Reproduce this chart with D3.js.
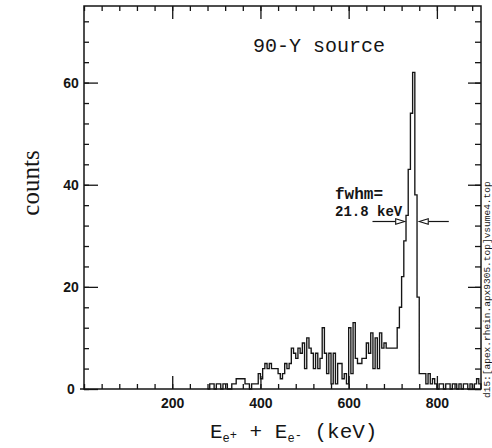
<!DOCTYPE html>
<html>
<head>
<meta charset="utf-8">
<script src="https://cdn.jsdelivr.net/npm/d3@7"></script>
<style>
  html, body { margin: 0; padding: 0; background: #fff; }
  svg { display: block; }
</style>
</head>
<body>
<svg width="492" height="448"></svg>
<script>
// histogram: 5 keV bins starting at binStart
const binStart = 280;
const binWidth = 5;
const counts = [
    0, 1, 1, 0, 1, 1, 0, 1, 1, 0,      // 280 - 325
    0, 1, 1, 2, 2, 2, 2, 1, 1, 0,      // 330 - 375
    1, 1, 1, 3, 2, 4, 5, 4, 5, 4,      // 380 - 425
    4, 4, 3, 2, 3, 5, 4, 5, 8, 7,      // 430 - 475
    6, 8, 7, 9, 4, 10, 8, 7, 4, 7,     // 480 - 525
    4, 6, 12, 7, 3, 7, 1, 7, 1, 5,     // 530 - 575
    5, 2, 3, 1, 12, 3, 13, 6, 5, 5,    // 580 - 625
    6, 6, 9, 7, 11, 4, 10, 4, 11, 8,   // 630 - 675
    9, 8, 8, 8, 8, 8, 12, 16, 22, 29,  // 680 - 725
    34, 43, 54, 62, 38, 18, 3, 3, 3, 1, // 730 - 775
    3, 1, 2, 1, 0, 1, 1, 0, 1, 1,      // 780 - 825
    0, 1, 1, 0, 1, 0, 1, 1, 0, 1,      // 830 - 875
    0, 1, 2, 1                         // 880 - 895
];

const xMajor = [200, 400, 600, 800];
const xMinor = d3.range(0, 901, 40);
const yMajor = [0, 20, 40, 60];
const yMinor = d3.range(0, 76, 4);

const fwhmCount = 32.8;
const fwhmLeft = [654, 727];   // tail, tip (keV)
const fwhmRight = [827, 760];

const svg = d3.select("svg");
const L = 84, R = 481, T = 6, B = 389;

const x = d3.scaleLinear().domain([0, 900]).range([L, R]);
const y = d3.scaleLinear().domain([0, 75]).range([B, T]);

const ink = "#151515";
const sansFont = "'Liberation Sans', Arial, sans-serif";
const monoFont = "'Liberation Mono', 'DejaVu Sans Mono', monospace";

// ticks, inward on all four sides
function tickAxis(axis, tr, vals, size, labels) {
    const g = svg.append("g")
        .attr("transform", tr)
        .call(axis.tickValues(vals).tickSize(-size).tickSizeOuter(0)
            .tickFormat(labels ? d3.format("d") : ""));
    g.select(".domain").remove();
    g.selectAll("line").attr("stroke", ink).attr("stroke-width", 1.3);
    return g;
}

tickAxis(d3.axisBottom(x), `translate(0,${B})`, xMinor, 5, false);
const xg = tickAxis(d3.axisBottom(x).tickPadding(9), `translate(0,${B})`, xMajor, 13, true);
xg.selectAll("text")
    .attr("font-family", sansFont).attr("font-size", 14).attr("font-weight", "bold")
    .attr("fill", ink);

tickAxis(d3.axisTop(x), `translate(0,${T})`, xMinor, 5, false);
tickAxis(d3.axisTop(x), `translate(0,${T})`, xMajor, 13, false);

tickAxis(d3.axisLeft(y), `translate(${L},0)`, yMinor, 5, false);
const yg = tickAxis(d3.axisLeft(y), `translate(${L},0)`, yMajor, 14, true);
yg.selectAll("text")
    .attr("x", -13).attr("text-anchor", "middle")
    .attr("font-family", sansFont).attr("font-size", 14).attr("font-weight", "bold")
    .attr("fill", ink);

tickAxis(d3.axisRight(y), `translate(${R},0)`, yMinor, 6, false);
tickAxis(d3.axisRight(y), `translate(${R},0)`, yMajor, 13, false);

// frame
svg.append("rect")
    .attr("x", L).attr("y", T).attr("width", R - L).attr("height", B - T)
    .attr("fill", "none").attr("stroke", ink).attr("stroke-width", 1.5);
svg.append("line")
    .attr("x1", L - 4).attr("x2", L).attr("y1", B).attr("y2", B)
    .attr("stroke", ink).attr("stroke-width", 1.5);

// histogram as a step line
const pts = counts.map((c, i) => [binStart + i * binWidth, c]);
pts.push([binStart + counts.length * binWidth, 0]);
const step = d3.line()
    .x(d => x(d[0]))
    .y(d => y(d[1]))
    .curve(d3.curveStepAfter);
svg.append("path")
    .attr("d", step(pts))
    .attr("fill", "none").attr("stroke", ink).attr("stroke-width", 1.35);

// fwhm arrows
function arrow(tail, tip) {
    const yy = y(fwhmCount);
    const x0 = x(tail), x1 = x(tip);
    const dir = x1 > x0 ? 1 : -1;
    svg.append("line")
        .attr("x1", x0).attr("x2", x1 - dir * 9).attr("y1", yy).attr("y2", yy)
        .attr("stroke", ink).attr("stroke-width", 1.2);
    svg.append("path")
        .attr("d", `M${x1},${yy}L${x1 - dir * 9},${yy - 2.8}L${x1 - dir * 9},${yy + 2.8}Z`)
        .attr("fill", "#fff").attr("stroke", ink).attr("stroke-width", 1.1);
}
arrow(fwhmLeft[0], fwhmLeft[1]);
arrow(fwhmRight[0], fwhmRight[1]);

svg.append("text")
    .attr("x", 335).attr("y", 199)
    .attr("font-family", monoFont).attr("font-size", 16).attr("font-weight", "bold")
    .attr("fill", ink).text("fwhm=");
svg.append("text")
    .attr("x", 335).attr("y", 216)
    .attr("font-family", monoFont).attr("font-size", 14).attr("font-weight", "bold")
    .attr("fill", ink).text("21.8 keV");

// title
svg.append("text")
    .attr("x", 253).attr("y", 52)
    .attr("font-family", monoFont).attr("font-size", 20)
    .attr("fill", ink).text("90-Y source");

// y label
svg.append("text")
    .attr("transform", "translate(30,183) rotate(-90)")
    .attr("text-anchor", "middle").attr("dominant-baseline", "central")
    .attr("font-family", "'Liberation Serif', 'Times New Roman', serif").attr("font-size", 25)
    .attr("fill", ink).text("counts");

// x label with sub/superscripts
const xl = svg.append("text")
    .attr("x", 210).attr("y", 438)
    .attr("font-family", monoFont).attr("font-size", 21)
    .attr("fill", ink);
xl.append("tspan").text("E");
xl.append("tspan").attr("font-size", 12).attr("dy", 4).text("e");
xl.append("tspan").attr("font-size", 12).attr("dy", -3).text("+");
xl.append("tspan").attr("dy", -1).text(" + E");
xl.append("tspan").attr("font-size", 12).attr("dy", 4).text("e");
xl.append("tspan").attr("font-size", 12).attr("dy", -3).text("-");
xl.append("tspan").attr("dy", -1).text(" (keV)");

// file tag along the right edge
svg.append("text")
    .attr("transform", "translate(487,398) rotate(-90)")
    .attr("dominant-baseline", "central")
    .attr("font-family", monoFont).attr("font-size", 9.5)
    .attr("fill", ink).text("d15:[apex.rhein.apx9305.top]vsume4.top");
</script>
</body>
</html>
